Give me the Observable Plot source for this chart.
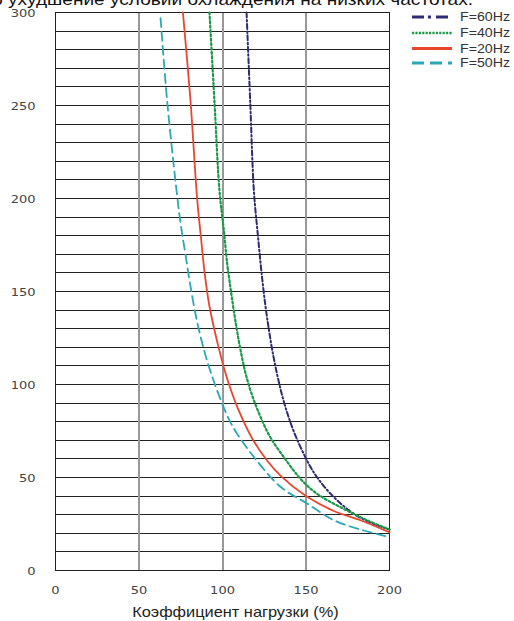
<!DOCTYPE html>
<html>
<head>
<meta charset="utf-8">
<script src="https://cdn.jsdelivr.net/npm/d3@7"></script>
<script src="https://cdn.jsdelivr.net/npm/@observablehq/plot@0.6"></script>
<style>
  html, body { margin: 0; padding: 0; background: #fff; }
  #chart { width: 514px; height: 621px; overflow: hidden; }
</style>
</head>
<body>
<div id="chart"></div>
<script>
// ---- data ----
const titleText = "но ухудшение условий охлаждения на низких частотах.";
const xLabel = "Коэффициент нагрузки (%)";
const xTicks = [0, 50, 100, 150, 200];
const yTicks = [0, 50, 100, 150, 200, 250, 300];

const seriesNames = ["F=60Hz", "F=40Hz", "F=20Hz", "F=50Hz"];
const seriesColors = ["#2e2b74", "#1a9a48", "#e8472f", "#2aa8b5"];

const f60x = [114.4, 116.6, 118.8, 121.1, 123.4, 125.6, 127.7, 129.9, 132.7, 135.9, 139.4, 143.7, 150.7, 156.7, 166.7, 178.6, 190.6, 200];
const f60y = [300, 252, 204, 181, 160, 143, 130, 118, 105.5, 93.5, 83, 72.5, 59, 50, 39.4, 30.5, 25, 22];

const f40x = [92.2, 95.2, 98.2, 100.8, 102.8, 104.3, 105.9, 108.3, 110.8, 113.8, 117.8, 122.8, 128.7, 136.7, 146.7, 156.7, 170.7, 186.6, 200];
const f40y = [300, 252, 204, 183, 165, 155, 145, 131, 118.5, 106, 94, 82.5, 71.5, 61, 49.3, 41.2, 34, 27, 22];

const f20x = [76.3, 80.8, 84.8, 87, 89.3, 92, 95, 98.5, 101.5, 104.5, 108.8, 117.8, 126.8, 134.7, 150, 166.7, 182.6, 200];
const f20y = [300, 253, 200, 180, 160, 143, 130, 117, 107, 98.5, 88, 71, 59, 51, 40, 32, 27, 20.5];

const f50x = [62.9, 66.9, 72.9, 75, 77.8, 80.8, 84.5, 88.5, 92.8, 98.8, 104, 108.8, 118.8, 134.7, 150.7, 166.7, 184.6, 200];
const f50y = [297, 252, 201, 186, 170, 153, 135, 120, 107, 92, 81, 73.5, 61, 45, 36, 27, 21.5, 18];

// ---- build table ----
const xs = [f60x, f40x, f20x, f50x];
const ys = [f60y, f40y, f20y, f50y];
const rows = [];
seriesNames.forEach((name, i) => {
  xs[i].forEach((x, j) => rows.push({series: name, x, y: ys[i][j]}));
});
const dashes = {"F=60Hz": "5,2.5,1.5,2.5", "F=40Hz": "2,2.4", "F=20Hz": null, "F=50Hz": "9,5"};
const widths = {"F=60Hz": 2, "F=40Hz": 2.2, "F=20Hz": 1.8, "F=50Hz": 1.8};

const lineMarks = seriesNames.map((name, i) => Plot.line(rows.filter(d => d.series === name), {
  x: "x", y: "y",
  stroke: seriesColors[i],
  strokeWidth: widths[name],
  strokeDasharray: dashes[name],
  curve: "catmull-rom"
}));

const tickFont = "DejaVu Sans, Verdana, sans-serif";

const plot = Plot.plot({
  width: 514,
  height: 621,
  marginLeft: 55,
  marginRight: 125,
  marginTop: 12,
  marginBottom: 51,
  style: {fontFamily: "Liberation Sans, Arial, sans-serif", background: "#fff", overflow: "visible"},
  x: {domain: [0, 200]},
  y: {domain: [0, 300]},
  marks: [
    Plot.ruleY(d3.range(10, 300, 10), {stroke: "#222", strokeWidth: 1, shapeRendering: "crispEdges"}),
    Plot.ruleX([50, 100, 150], {stroke: "#999", strokeWidth: 2, shapeRendering: "crispEdges"}),
    Plot.frame({stroke: "#222", strokeWidth: 1, shapeRendering: "crispEdges"}),
    ...lineMarks,
    Plot.axisY(yTicks, {tickSize: 0, tickPadding: 20, dy: 1, fontSize: 11, fill: "#444", fontFamily: tickFont, label: null, className: "ticklab"}),
    Plot.axisX(xTicks, {tickSize: 0, tickPadding: 16, fontSize: 11, fill: "#444", fontFamily: tickFont, label: null, className: "ticklab"}),
    Plot.text([xLabel], {frameAnchor: "bottom", dx: 13, dy: 42, fontSize: 15, fill: "#222", lineAnchor: "middle", className: "xlab"})
  ]
});

const svg = d3.select(plot);

// title (cut off at the top edge, as in the reference)
const ttl = svg.append("text")
  .attr("class", "ttl")
  .attr("y", 4.5)
  .attr("text-anchor", "start")
  .attr("font-size", 17).attr("fill", "#111")
  .attr("font-family", "Liberation Sans, Arial, sans-serif")
  .text(titleText);

// legend drawn in the right margin
const lg = svg.append("g").attr("class", "legend");
const legendRows = [17, 33, 48.5, 63];
seriesNames.forEach((name, i) => {
  const yy = legendRows[i];
  lg.append("line")
    .attr("x1", 412).attr("x2", 452).attr("y1", yy).attr("y2", yy)
    .attr("stroke", seriesColors[i])
    .attr("stroke-width", name === "F=40Hz" ? 2.5 : 3)
    .attr("stroke-dasharray", {"F=60Hz": "12,4,3,5", "F=40Hz": "2.2,1.2", "F=20Hz": null, "F=50Hz": "12,6"}[name]);
  lg.append("text")
    .attr("class", "legtext")
    .attr("x", 460).attr("y", yy).attr("dy", "0.35em")
    .attr("text-anchor", "start")
    .attr("font-size", 12).attr("fill", "#333")
    .attr("font-family", "Liberation Sans, Arial, sans-serif")
    .text(name);
});

document.getElementById("chart").appendChild(plot);

// the reference text is drawn horizontally wider than the fonts: stretch it
function stretch(sel, k, adjust) {
  sel.each(function() {
    const w = this.getComputedTextLength();
    if (w > 0) {
      this.setAttribute("textLength", (w * k).toFixed(1));
      this.setAttribute("lengthAdjust", adjust);
    }
  });
}
stretch(svg.selectAll(".ticklab text"), 1.18, "spacingAndGlyphs");
stretch(svg.selectAll(".xlab text"), 1.09, "spacingAndGlyphs");
stretch(svg.selectAll(".legtext"), 1.18, "spacingAndGlyphs");

// title: "ухудшение" starts at x = 8, the text ends at x = 473
{
  const node = ttl.node();
  const w = node.getComputedTextLength();
  const p = node.getSubStringLength(0, 3);
  const k = (473 - 8) / (w - p);
  node.setAttribute("x", (8 - p * k).toFixed(1));
  node.setAttribute("textLength", (w * k).toFixed(1));
  node.setAttribute("lengthAdjust", "spacingAndGlyphs");
}
</script>
</body>
</html>
